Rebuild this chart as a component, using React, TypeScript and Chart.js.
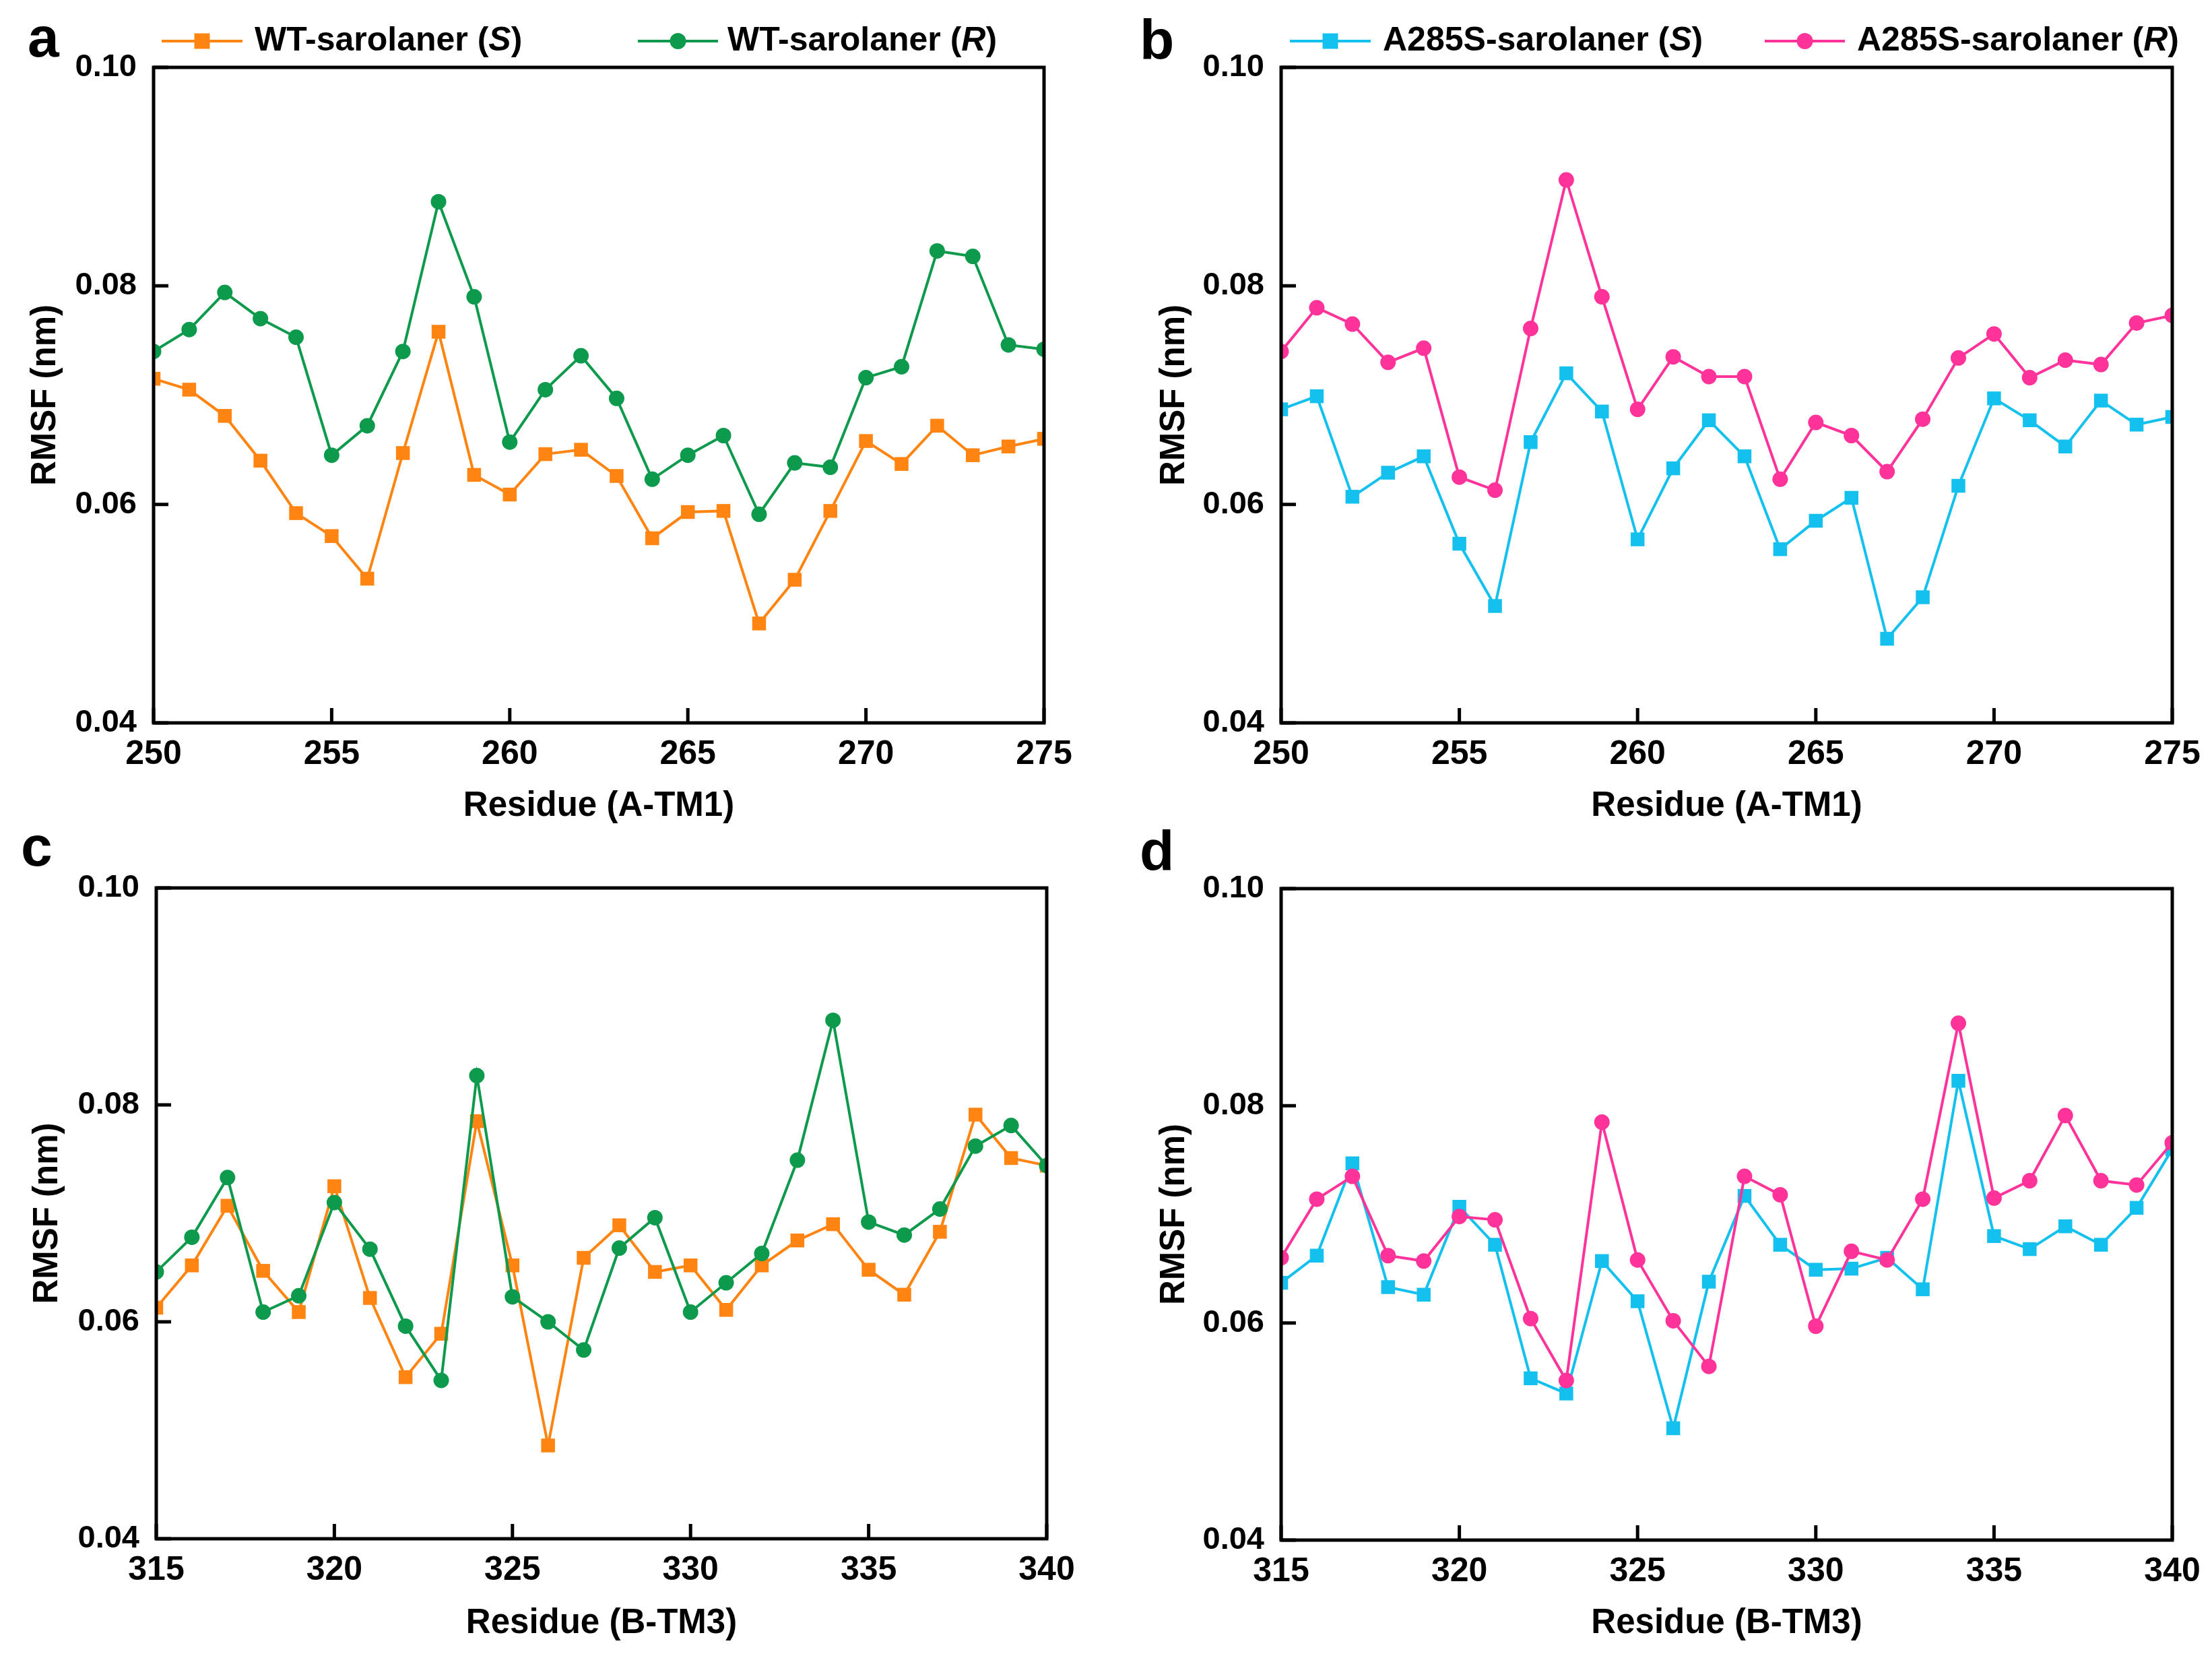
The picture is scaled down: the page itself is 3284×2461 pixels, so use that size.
import { useEffect, useRef } from 'react';
import { Chart, registerables } from 'chart.js';

Chart.register(...registerables);

const FONT = "'Liberation Sans', Arial, Helvetica, sans-serif";

// residue numbers on the x axes
const residuesTM1 = [250, 251, 252, 253, 254, 255, 256, 257, 258, 259, 260, 261, 262, 263, 264, 265, 266, 267, 268, 269, 270, 271, 272, 273, 274, 275];
const residuesTM3 = [315, 316, 317, 318, 319, 320, 321, 322, 323, 324, 325, 326, 327, 328, 329, 330, 331, 332, 333, 334, 335, 336, 337, 338, 339, 340];

// RMSF (nm), A-TM1
const wtS_TM1 = [0.0715, 0.0705, 0.0681, 0.0640, 0.0592, 0.0571, 0.0532, 0.0647, 0.0758, 0.0627, 0.0609, 0.0646, 0.0650, 0.0626, 0.0569, 0.0593, 0.0594, 0.0491, 0.0531, 0.0594, 0.0658, 0.0637, 0.0672, 0.0645, 0.0653, 0.0660];
const wtR_TM1 = [0.0740, 0.0760, 0.0794, 0.0770, 0.0753, 0.0645, 0.0672, 0.0740, 0.0877, 0.0790, 0.0657, 0.0705, 0.0736, 0.0697, 0.0623, 0.0645, 0.0663, 0.0591, 0.0638, 0.0634, 0.0716, 0.0726, 0.0832, 0.0827, 0.0746, 0.0742];
const mutS_TM1 = [0.0687, 0.0699, 0.0607, 0.0629, 0.0644, 0.0564, 0.0507, 0.0657, 0.0720, 0.0685, 0.0568, 0.0633, 0.0677, 0.0644, 0.0559, 0.0585, 0.0606, 0.0477, 0.0515, 0.0617, 0.0697, 0.0677, 0.0653, 0.0695, 0.0673, 0.0680];
const mutR_TM1 = [0.0740, 0.0780, 0.0765, 0.0730, 0.0743, 0.0625, 0.0613, 0.0761, 0.0897, 0.0790, 0.0687, 0.0735, 0.0717, 0.0717, 0.0623, 0.0675, 0.0663, 0.0630, 0.0678, 0.0734, 0.0756, 0.0716, 0.0732, 0.0728, 0.0766, 0.0773];

// RMSF (nm), B-TM3
const wtS_TM3 = [0.0613, 0.0652, 0.0707, 0.0647, 0.0609, 0.0725, 0.0622, 0.0549, 0.0589, 0.0785, 0.0652, 0.0486, 0.0659, 0.0689, 0.0646, 0.0652, 0.0611, 0.0652, 0.0675, 0.0690, 0.0648, 0.0625, 0.0683, 0.0791, 0.0751, 0.0744];
const wtR_TM3 = [0.0646, 0.0678, 0.0733, 0.0609, 0.0624, 0.0710, 0.0667, 0.0596, 0.0546, 0.0827, 0.0623, 0.0600, 0.0574, 0.0668, 0.0696, 0.0609, 0.0636, 0.0663, 0.0749, 0.0878, 0.0692, 0.0680, 0.0704, 0.0762, 0.0781, 0.0744];
const mutS_TM3 = [0.0637, 0.0662, 0.0747, 0.0633, 0.0626, 0.0707, 0.0672, 0.0549, 0.0535, 0.0657, 0.0620, 0.0503, 0.0638, 0.0717, 0.0672, 0.0649, 0.0650, 0.0660, 0.0631, 0.0823, 0.0680, 0.0668, 0.0689, 0.0672, 0.0706, 0.0760];
const mutR_TM3 = [0.0660, 0.0714, 0.0735, 0.0662, 0.0657, 0.0698, 0.0695, 0.0604, 0.0547, 0.0785, 0.0658, 0.0602, 0.0560, 0.0735, 0.0718, 0.0597, 0.0666, 0.0658, 0.0714, 0.0876, 0.0715, 0.0731, 0.0791, 0.0731, 0.0727, 0.0766];

const ORANGE = '#ff8412';
const GREEN = '#0e9a4c';
const CYAN = '#14c1ee';
const PINK = '#ff3399';

type Series = {
  name: string;
  tag: string;
  values: number[];
  color: string;
  marker: 'rect' | 'circle';
};

type LegendSlot = { from: number; to: number; textX: number };

type PanelProps = {
  letter: string;
  letterX: number;
  letterY: number;
  left: number;
  top: number;
  width: number;
  height: number;
  area: { l: number; t: number; r: number; b: number };
  residues: number[];
  xTitle: string;
  xTitlePad: number;
  yTitlePad: number;
  series: Series[];
  legend?: LegendSlot[];
};

const wtSeries = (s: number[], r: number[]): Series[] => [
  { name: 'WT-sarolaner', tag: 'S', values: s, color: ORANGE, marker: 'rect' },
  { name: 'WT-sarolaner', tag: 'R', values: r, color: GREEN, marker: 'circle' },
];
const mutSeries = (s: number[], r: number[]): Series[] => [
  { name: 'A285S-sarolaner', tag: 'S', values: s, color: CYAN, marker: 'rect' },
  { name: 'A285S-sarolaner', tag: 'R', values: r, color: PINK, marker: 'circle' },
];

const drawMarker = (ctx: CanvasRenderingContext2D, kind: string, x: number, y: number) => {
  ctx.beginPath();
  if (kind === 'rect') {
    ctx.rect(x - 11.5, y - 11.5, 23, 23);
  } else {
    ctx.arc(x, y, 12, 0, Math.PI * 2);
  }
  ctx.fill();
};

const Panel = (p: PanelProps) => {
  const canvasRef = useRef<HTMLCanvasElement | null>(null);
  const chartRef = useRef<Chart | null>(null);

  useEffect(() => {
    if (!canvasRef.current) return;
    if (chartRef.current) chartRef.current.destroy();
    const ctx = canvasRef.current.getContext('2d');
    if (!ctx) return;

    const decor = {
      id: 'decor' + p.letter,
      afterDraw(chart: Chart) {
        const c = chart.ctx;
        const { left, right, top, bottom } = chart.chartArea;
        c.save();
        // frame with inward ticks
        c.strokeStyle = '#000';
        c.lineWidth = 5;
        c.strokeRect(left, top, right - left, bottom - top);
        c.beginPath();
        chart.scales.y.ticks.forEach((t) => {
          const py = chart.scales.y.getPixelForValue(t.value);
          c.moveTo(left, py);
          c.lineTo(left + 22, py);
        });
        chart.scales.x.ticks.forEach((t) => {
          const px = chart.scales.x.getPixelForValue(t.value);
          c.moveTo(px, bottom);
          c.lineTo(px, bottom - 22);
        });
        c.stroke();

        // panel letter
        c.fillStyle = '#000';
        c.font = `bold 84px ${FONT}`;
        c.textBaseline = 'alphabetic';
        c.textAlign = 'left';
        c.fillText(p.letter, p.letterX, p.letterY);

        // legend
        if (p.legend) {
          const ly = 61;
          p.legend.forEach((slot, i) => {
            const s = p.series[i];
            c.strokeStyle = s.color;
            c.fillStyle = s.color;
            c.lineWidth = 4;
            c.beginPath();
            c.moveTo(slot.from, ly);
            c.lineTo(slot.to, ly);
            c.stroke();
            drawMarker(c, s.marker, (slot.from + slot.to) / 2, ly);

            c.fillStyle = '#000';
            c.textBaseline = 'middle';
            let x = slot.textX;
            c.font = `bold 50px ${FONT}`;
            const first = s.name + ' (';
            c.fillText(first, x, ly);
            x += c.measureText(first).width;
            c.font = `italic bold 50px ${FONT}`;
            c.fillText(s.tag, x, ly);
            x += c.measureText(s.tag).width;
            c.font = `bold 50px ${FONT}`;
            c.fillText(')', x, ly);
          });
        }
        c.restore();
      },
    };

    chartRef.current = new Chart(ctx, {
      type: 'line',
      data: {
        datasets: p.series.map((s, i) => ({
          label: `${s.name} (${s.tag})`,
          data: p.residues.map((r, k) => ({ x: r, y: s.values[k] })),
          borderColor: s.color,
          backgroundColor: s.color,
          pointBackgroundColor: s.color,
          pointBorderWidth: 0,
          pointStyle: s.marker,
          pointRadius: s.marker === 'rect' ? 14.5 : 11.5,
          borderWidth: 4,
          tension: 0,
          clip: 0,
          order: i === 0 ? 1 : 0,
        })),
      },
      options: {
        animation: false,
        responsive: false,
        devicePixelRatio: 1,
        layout: {
          padding: { left: 0, top: p.area.t, right: p.width - p.area.r, bottom: 0 },
        },
        plugins: {
          legend: { display: false },
          tooltip: { enabled: false },
        },
        scales: {
          x: {
            type: 'linear',
            min: p.residues[0],
            max: p.residues[p.residues.length - 1],
            grid: { display: false, drawTicks: false },
            border: { display: false },
            ticks: {
              stepSize: 5,
              autoSkip: false,
              maxRotation: 0,
              padding: 17,
              color: '#000',
              font: { family: FONT, size: 50, weight: 'bold' },
            },
            title: {
              display: true,
              text: p.xTitle,
              color: '#000',
              font: { family: FONT, size: 51, weight: 'bold' },
              padding: { top: 0, bottom: p.xTitlePad },
            },
            afterFit: (scale) => {
              scale.height = p.height - p.area.b;
            },
          },
          y: {
            type: 'linear',
            min: 0.04,
            max: 0.1,
            grid: { display: false, drawTicks: false },
            border: { display: false },
            ticks: {
              stepSize: 0.02,
              padding: 25,
              color: '#000',
              font: { family: FONT, size: 47, weight: 'bold' },
              callback: (v) => Number(v).toFixed(2),
            },
            title: {
              display: true,
              text: 'RMSF (nm)',
              color: '#000',
              font: { family: FONT, size: 51, weight: 'bold' },
              padding: { top: p.yTitlePad, bottom: 0 },
            },
            afterFit: (scale) => {
              scale.width = p.area.l;
            },
          },
        },
      },
      plugins: [decor],
    });

    return () => {
      if (chartRef.current) {
        chartRef.current.destroy();
        chartRef.current = null;
      }
    };
  }, []);

  return (
    <canvas
      ref={canvasRef}
      width={p.width}
      height={p.height}
      style={{ position: 'absolute', left: p.left, top: p.top, width: p.width, height: p.height }}
    />
  );
};

const App = () => {
  return (
    <div style={{ position: 'absolute', left: 0, top: 0, width: 3284, height: 2461, background: '#fff' }}>
      <Panel
        letter="a" letterX={41} letterY={84}
        left={0} top={0} width={1640} height={1230}
        area={{ l: 228, t: 100, r: 1550, b: 1073 }}
        residues={residuesTM1} xTitle="Residue (A-TM1)" xTitlePad={2} yTitlePad={37}
        series={wtSeries(wtS_TM1, wtR_TM1)}
        legend={[{ from: 240, to: 360, textX: 378 }, { from: 947, to: 1066, textX: 1080 }]}
      />
      <Panel
        letter="b" letterX={52} letterY={88}
        left={1640} top={0} width={1644} height={1230}
        area={{ l: 262, t: 100, r: 1585, b: 1073 }}
        residues={residuesTM1} xTitle="Residue (A-TM1)" xTitlePad={2} yTitlePad={73}
        series={mutSeries(mutS_TM1, mutR_TM1)}
        legend={[{ from: 275, to: 395, textX: 413 }, { from: 980, to: 1099, textX: 1117 }]}
      />
      <Panel
        letter="c" letterX={31} letterY={55}
        left={0} top={1230} width={1640} height={1231}
        area={{ l: 232, t: 88, r: 1554, b: 1054 }}
        residues={residuesTM3} xTitle="Residue (B-TM3)" xTitlePad={20} yTitlePad={40}
        series={wtSeries(wtS_TM3, wtR_TM3)}
      />
      <Panel
        letter="d" letterX={52} letterY={62}
        left={1640} top={1230} width={1644} height={1231}
        area={{ l: 262, t: 89, r: 1585, b: 1056 }}
        residues={residuesTM3} xTitle="Residue (B-TM3)" xTitlePad={20} yTitlePad={73}
        series={mutSeries(mutS_TM3, mutR_TM3)}
      />
    </div>
  );
};

export default App;
